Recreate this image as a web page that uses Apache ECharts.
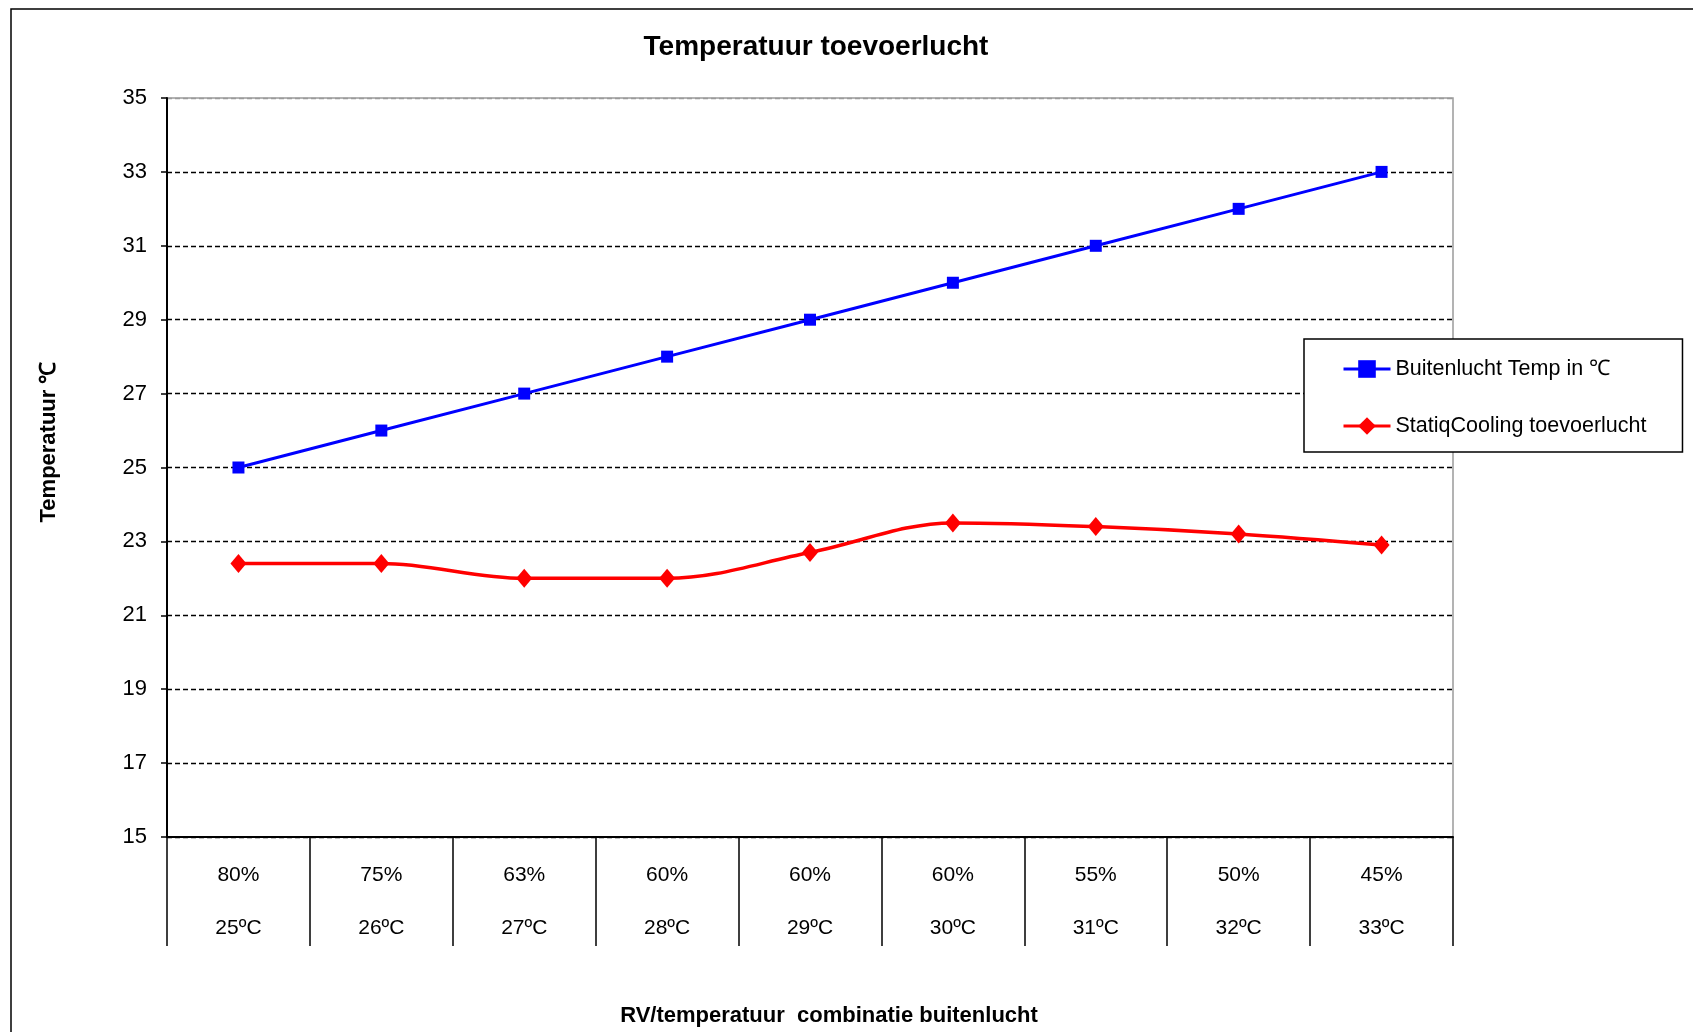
<!DOCTYPE html>
<html>
<head>
<meta charset="utf-8">
<script src="https://cdn.jsdelivr.net/npm/echarts@6/dist/echarts.min.js"></script>
<style>
html,body{margin:0;padding:0;background:#fff;}
#chart{width:1693px;height:1032px;}
</style>
</head>
<body>
<div id="chart"></div>
<script>
const categories = ['80%\n25ºC','75%\n26ºC','63%\n27ºC','60%\n28ºC','60%\n29ºC','60%\n30ºC','55%\n31ºC','50%\n32ºC','45%\n33ºC'];
const buitenlucht = [25, 26, 27, 28, 29, 30, 31, 32, 33];
const statiqCooling = [22.4, 22.4, 22.0, 22.0, 22.7, 23.5, 23.4, 23.2, 22.9];
const yTicks = {min: 15, max: 35, interval: 2};

const FONT = '"Liberation Sans", Arial, sans-serif';
const nLines = Math.round((yTicks.max - yTicks.min) / yTicks.interval) + 1;
const splitColors = [];
for (let i = 0; i < nLines; i++) splitColors.push(i === nLines - 1 ? '#9a9a9a' : '#000');

const chart = echarts.init(document.getElementById('chart'));
chart.setOption({
  backgroundColor: '#ffffff',
  animation: false,
  textStyle: {fontFamily: FONT, color: '#000'},
  title: {
    text: 'Temperatuur toevoerlucht',
    left: 811, top: 28, textAlign: 'center',
    textStyle: {fontFamily: FONT, fontSize: 28, fontWeight: 'bold', color: '#000'}
  },
  graphic: [
    {type: 'rect', shape: {x: 11, y: 9, width: 1720, height: 1100}, style: {fill: 'none', stroke: '#000', lineWidth: 1.5}, z: -1},
    {type: 'text', x: 49, y: 442, rotation: Math.PI / 2,
      style: {text: 'Temperatuur ℃', font: 'bold 22px ' + FONT, fill: '#000', textAlign: 'center', textVerticalAlign: 'middle'}}
  ],
  legend: {
    orient: 'vertical',
    left: 1304, top: 339,
    padding: [19, 36, 15, 38],
    itemGap: 35,
    itemWidth: 47, itemHeight: 22,
    borderColor: '#000', borderWidth: 1.5,
    backgroundColor: '#fff',
    textStyle: {fontFamily: FONT, fontSize: 21.5, color: '#000'},
    lineStyle: {width: 3},
    data: ['Buitenlucht Temp in ℃', 'StatiqCooling toevoerlucht']
  },
  grid: {left: 167, right: 240, top: 98, bottom: 186, show: true, borderColor: '#9a9a9a', borderWidth: 1.5, backgroundColor: 'transparent'},
  xAxis: {
    type: 'category',
    data: categories,
    boundaryGap: true,
    name: 'RV/temperatuur  combinatie buitenlucht',
    nameLocation: 'middle',
    nameGap: 168,
    nameTextStyle: {fontFamily: FONT, fontSize: 22, fontWeight: 'bold', color: '#000', padding: [0, 0, 0, 38]},
    axisLine: {lineStyle: {color: '#000', width: 2}},
    axisTick: {show: true, interval: 0, length: 109, lineStyle: {color: '#000', width: 1.5}},
    axisLabel: {interval: 0, margin: 12, lineHeight: 53, fontSize: 21, color: '#000', fontFamily: FONT},
    splitLine: {show: false}
  },
  yAxis: {
    type: 'value',
    min: yTicks.min, max: yTicks.max, interval: yTicks.interval,
    axisLine: {show: true, lineStyle: {color: '#000', width: 2}},
    axisTick: {show: true, length: 6, lineStyle: {color: '#000', width: 1.5}},
    axisLabel: {margin: 20, fontSize: 22, color: '#000', fontFamily: FONT},
    splitLine: {show: true, lineStyle: {color: splitColors, width: 1.4, type: [5, 3]}}
  },
  series: [
    {
      name: 'Buitenlucht Temp in ℃',
      type: 'line',
      data: buitenlucht,
      symbol: 'rect', symbolSize: 12,
      lineStyle: {color: '#0000FF', width: 3},
      itemStyle: {color: '#0000FF'},
      z: 3
    },
    {
      name: 'StatiqCooling toevoerlucht',
      type: 'line',
      data: statiqCooling,
      smooth: 0.35,
      symbol: 'diamond', symbolSize: [16, 19],
      lineStyle: {color: '#FF0000', width: 3.5},
      itemStyle: {color: '#FF0000'},
      z: 3
    }
  ]
});
</script>
</body>
</html>
